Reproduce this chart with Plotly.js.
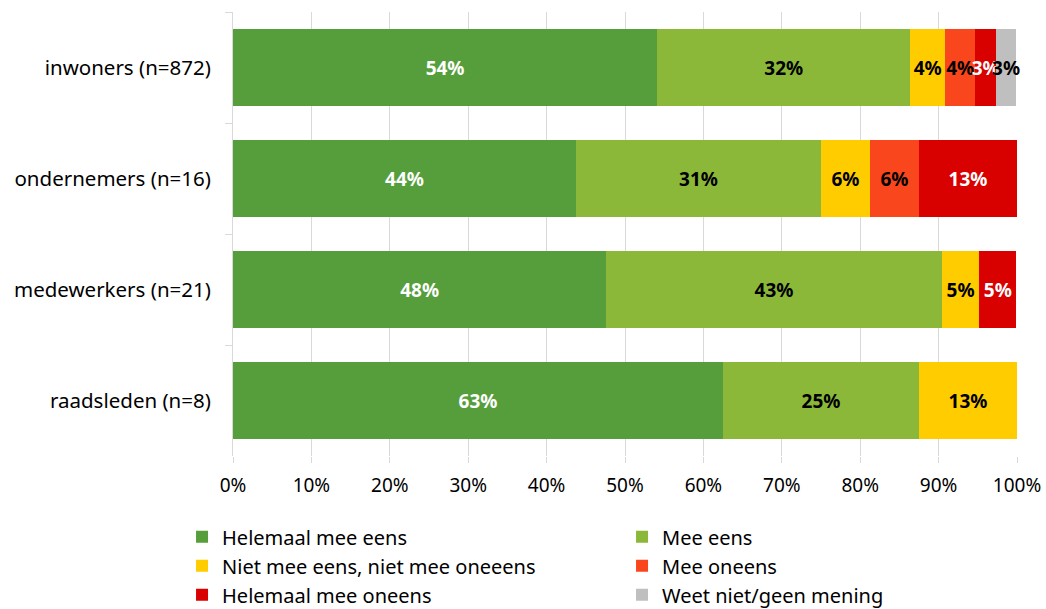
<!DOCTYPE html>
<html>
<head>
<meta charset="utf-8">
<script src="https://cdn.plot.ly/plotly-3.0.1.min.js"></script>
<style>html,body{margin:0;padding:0;background:#fff;}#chart{width:1046px;height:609px;}</style>
</head>
<body>
<div id="chart"></div>
<script>
var categories = ["inwoners (n=872)", "ondernemers (n=16)", "medewerkers (n=21)", "raadsleden (n=8)"];
var seriesNames = ["Helemaal mee eens", "Mee eens", "Niet mee eens, niet mee oneeens", "Mee oneens", "Helemaal mee oneens", "Weet niet/geen mening"];
var helemaalMeeEens = [54.1, 43.75, 47.6, 62.5];
var meeEens = [32.3, 31.25, 42.8, 25.0];
var neutraal = [4.4, 6.25, 4.8, 12.5];
var meeOneens = [3.9, 6.25, 0, 0];
var helemaalMeeOneens = [2.6, 12.5, 4.7, 0];
var weetNiet = [2.6, 0, 0, 0];
var xTickValues = [0, 10, 20, 30, 40, 50, 60, 70, 80, 90, 100];
var xTickLabels = ["0%", "10%", "20%", "30%", "40%", "50%", "60%", "70%", "80%", "90%", "100%"];

var seriesValues = [helemaalMeeEens, meeEens, neutraal, meeOneens, helemaalMeeOneens, weetNiet];
var colors = ["#559E3B", "#8CB83A", "#FFCC00", "#F9461C", "#D90000", "#BFBFBF"];
var textColors = ["#FFFFFF", "#000000", "#000000", "#000000", "#FFFFFF", "#000000"];
var FONT = "Noto Sans, Open Sans, sans-serif";

var traces = seriesValues.map(function (vals, i) {
  return {
    type: "bar",
    orientation: "h",
    name: seriesNames[i],
    y: categories,
    x: vals,
    text: vals.map(function (v) { return v > 0 ? Math.round(v) + "%" : ""; }),
    textposition: "inside",
    insidetextanchor: "middle",
    constraintext: "none",
    textangle: 0,
    cliponaxis: false,
    textfont: { family: FONT, size: 19, color: textColors[i], weight: "bold" },
    marker: { color: colors[i], line: { width: 0 } },
    hoverinfo: "name+x"
  };
});

var layout = {
  width: 1046,
  height: 609,
  margin: { l: 233, r: 29, t: 12, b: 153, autoexpand: false },
  paper_bgcolor: "#FFFFFF",
  plot_bgcolor: "#FFFFFF",
  barmode: "stack",
  bargap: 0.315,
  font: { family: FONT, size: 19, color: "#000000" },
  xaxis: {
    range: [0, 100],
    tickvals: xTickValues,
    ticktext: xTickLabels,
    showgrid: true,
    gridcolor: "#D9D9D9",
    gridwidth: 1,
    zeroline: false,
    showline: false,
    ticks: "outside",
    ticklen: 6,
    tickcolor: "#D9D9D9",
    ticklabelstandoff: 6,
    tickfont: { family: FONT, size: 19, color: "#000000" },
    automargin: false,
    fixedrange: true
  },
  yaxis: {
    autorange: "reversed",
    showline: true,
    linecolor: "#D9D9D9",
    linewidth: 1,
    ticks: "outside",
    tickson: "boundaries",
    ticklen: 7,
    tickcolor: "#D9D9D9",
    ticklabelstandoff: 17,
    showgrid: false,
    tickfont: { family: FONT, size: 20.5, color: "#000000" },
    automargin: false,
    fixedrange: true
  },
  showlegend: true,
  legend: {
    orientation: "h",
    traceorder: "normal",
    x: -0.065,
    xanchor: "left",
    y: -0.138,
    yanchor: "top",
    entrywidth: 395,
    entrywidthmode: "pixels",
    font: { family: FONT, size: 20, color: "#000000" },
    bgcolor: "rgba(0,0,0,0)"
  }
};

Plotly.newPlot("chart", traces, layout, { displayModeBar: false, staticPlot: true });
</script>
</body>
</html>
